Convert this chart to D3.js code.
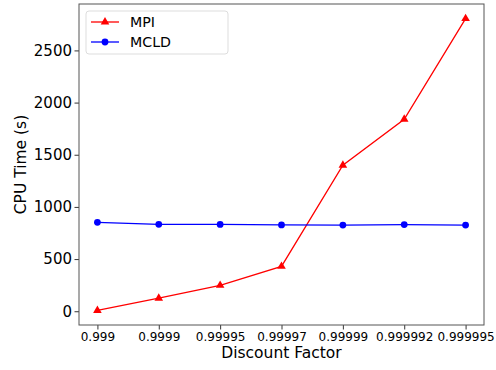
<!DOCTYPE html>
<html><head><meta charset="utf-8">
<script src="https://cdn.jsdelivr.net/npm/d3@7"></script>
<style>body{margin:0;background:#fff}text{font-family:"DejaVu Sans",sans-serif}</style>
</head><body>
<svg id="c" width="496" height="370"></svg>
<script>
const categories = ["0.999","0.9999","0.99995","0.99997","0.99999","0.999992","0.999995"];
const mpi = [8, 125, 248, 430, 1400, 1840, 2805];
const mcld = [852, 833, 832, 827, 826, 831, 826];
const yTicks = [0, 500, 1000, 1500, 2000, 2500];

const svg = d3.select("#c");
const L = 79, R = 484, T = 4, B = 325;
const x = d3.scaleLinear().domain([-0.3, categories.length - 1 + 0.3]).range([L, R]);
const all = mpi.concat(mcld);
const mn = d3.min(all), mx = d3.max(all), pad = (mx - mn) * 0.05;
const y = d3.scaleLinear().domain([mn - pad, mx + pad]).range([B, T]);

const xa = svg.append("g").attr("transform", `translate(0,${B})`)
  .call(d3.axisBottom(x).tickValues(d3.range(categories.length)).tickFormat(i => categories[i]).tickSize(4.5).tickPadding(2.5).tickSizeOuter(0));
xa.selectAll("text").attr("font-size", 12).attr("fill", "#000");
const ya = svg.append("g").attr("transform", `translate(${L},0)`)
  .call(d3.axisLeft(y).tickValues(yTicks).tickFormat(d3.format("d")).tickSize(4.5).tickPadding(2.5).tickSizeOuter(0));
ya.selectAll("text").attr("font-size", 15).attr("fill", "#000");
svg.selectAll(".domain").remove();
svg.selectAll(".tick line").attr("stroke", "#000").attr("stroke-width", 0.8);
svg.append("rect").attr("x", L).attr("y", T).attr("width", R - L).attr("height", B - T)
  .attr("fill", "none").attr("stroke", "#555").attr("stroke-width", 1);

const line = d3.line().x((d, i) => x(i)).y(d => y(d));
svg.append("path").datum(mpi).attr("d", line).attr("fill", "none").attr("stroke", "#f00").attr("stroke-width", 1.3);
svg.append("path").datum(mcld).attr("d", line).attr("fill", "none").attr("stroke", "#00f").attr("stroke-width", 1.3);
const tri = d3.symbol().type(d3.symbolTriangle).size(32);
svg.selectAll(".m1").data(mpi).enter().append("path").attr("d", tri)
  .attr("transform", (d, i) => `translate(${x(i)},${y(d)})`).attr("fill", "#f00");
svg.selectAll(".m2").data(mcld).enter().append("circle").attr("cx", (d, i) => x(i)).attr("cy", d => y(d)).attr("r", 3.4).attr("fill", "#00f");

// legend
const lg = svg.append("g");
lg.append("rect").attr("x", 86).attr("y", 11).attr("width", 142).attr("height", 43).attr("rx", 3)
  .attr("fill", "#fff").attr("stroke", "#ddd");
const items = [["MPI", "#f00", "tri"], ["MCLD", "#00f", "circ"]];
items.forEach((it, k) => {
  const yy = 22 + k * 20;
  lg.append("line").attr("x1", 91).attr("x2", 119).attr("y1", yy).attr("y2", yy).attr("stroke", it[1]).attr("stroke-width", 1.3);
  if (it[2] === "tri") lg.append("path").attr("d", tri).attr("transform", `translate(105,${yy})`).attr("fill", it[1]);
  else lg.append("circle").attr("cx", 105).attr("cy", yy).attr("r", 3.4).attr("fill", it[1]);
  lg.append("text").attr("x", 130).attr("y", yy).attr("dy", "0.35em").attr("font-size", 14.2).text(it[0]);
});

svg.append("text").attr("x", (L + R) / 2).attr("y", 358).attr("text-anchor", "middle").attr("font-size", 15.5).text("Discount Factor");
svg.append("text").attr("transform", `translate(26,${(T + B) / 2}) rotate(-90)`).attr("text-anchor", "middle").attr("font-size", 15.5).text("CPU Time (s)");
</script>
</body></html>
